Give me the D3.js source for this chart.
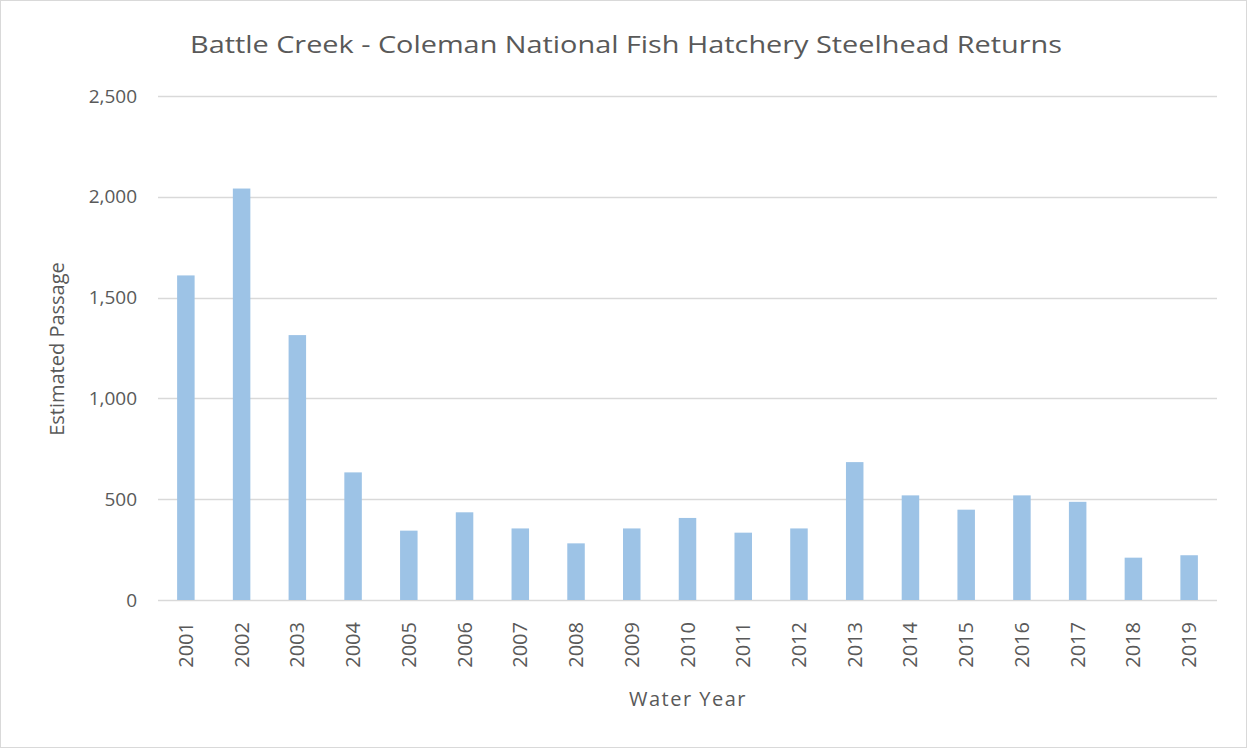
<!DOCTYPE html>
<html><head><meta charset="utf-8">
<script src="https://cdn.jsdelivr.net/npm/d3@7"></script>
<style>
html,body{margin:0;padding:0;background:#fff;}
text{font-family:"Open Sans","Noto Sans",sans-serif;fill:#595959;}
</style></head>
<body>
<svg id="chart" width="1247" height="748"></svg>
<script>
const years = ["2001","2002","2003","2004","2005","2006","2007","2008","2009","2010","2011","2012","2013","2014","2015","2016","2017","2018","2019"];
const passage = [1610,2041,1314,633,344,435,355,281,355,407,334,355,684,519,448,519,487,210,222];
const yTicks = [0,500,1000,1500,2000,2500];
const titleText = "Battle Creek - Coleman National Fish Hatchery Steelhead Returns";
const xTitle = "Water Year";
const yTitle = "Estimated Passage";

(function(){
const svg = d3.select("#chart");
svg.append("rect").attr("x",0.5).attr("y",0.5).attr("width",1246).attr("height",747)
  .attr("fill","#fff").attr("stroke","#d9d9d9");

const pLeft = 158, pRight = 1217, pTop = 96, pBottom = 600;
const x = d3.scaleBand().domain(years).range([pLeft,pRight]).paddingInner(0.686).paddingOuter(0.343);
const y = d3.scaleLinear().domain([0,2500]).range([pBottom,pTop]);

svg.append("g").selectAll("line").data(yTicks).join("line")
  .attr("x1",pLeft).attr("x2",pRight)
  .attr("y1",d=>Math.round(y(d))+0.5).attr("y2",d=>Math.round(y(d))+0.5)
  .attr("stroke","#d9d9d9").attr("stroke-width",1.5);

svg.append("g").selectAll("rect").data(years).join("rect")
  .attr("x",d=>x(d)).attr("width",x.bandwidth())
  .attr("y",(d,i)=>y(passage[i])).attr("height",(d,i)=>y(0)-y(passage[i]))
  .attr("fill","#9dc3e6");

const yAxis = d3.axisLeft(y).tickValues(yTicks).tickFormat(d3.format(",")).tickSize(0).tickPadding(21);
const gy = svg.append("g").attr("transform",`translate(${pLeft},0)`).call(yAxis);
gy.select(".domain").remove();
gy.selectAll("text").style("font-size","19px").attr("fill","#595959");

const xAxis = d3.axisBottom(x).tickSize(0);
const gx = svg.append("g").attr("transform",`translate(0,${pBottom})`).call(xAxis);
gx.select(".domain").remove();
gx.selectAll("text").style("font-size","20px").attr("fill","#595959")
  .attr("transform","rotate(-90)").attr("text-anchor","end")
  .attr("x",-22).attr("y",0).attr("dy","0.35em");

svg.append("text").attr("x",626).attr("y",53).attr("text-anchor","middle")
  .style("font-size","23px").attr("textLength",872).attr("lengthAdjust","spacingAndGlyphs").text(titleText);
svg.append("text").attr("x",688).attr("y",706).attr("text-anchor","middle")
  .style("font-size","20px").style("letter-spacing","1.5px").text(xTitle);
svg.append("text").attr("transform","translate(64,349) rotate(-90)").attr("text-anchor","middle")
  .style("font-size","20px").text(yTitle);
})();
</script>
</body></html>
